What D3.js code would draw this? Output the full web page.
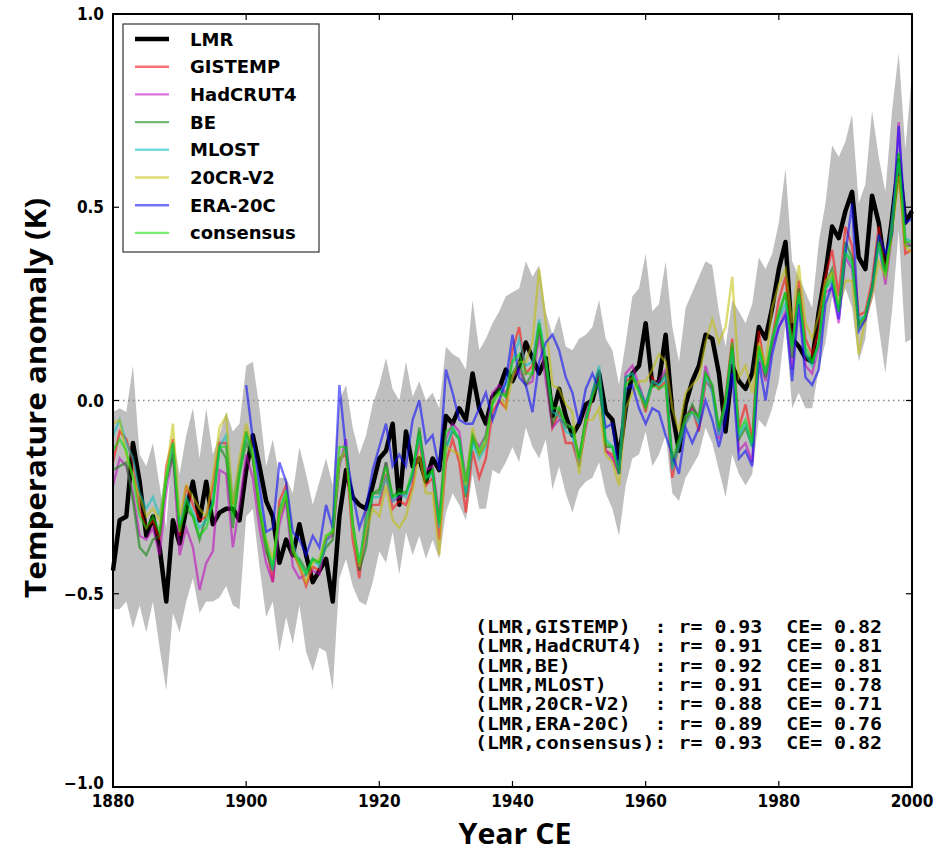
<!DOCTYPE html>
<html>
<head>
<meta charset="utf-8">
<script src="https://cdn.jsdelivr.net/npm/d3@7"></script>
<style>
body { margin: 0; background: #fff; }
</style>
</head>
<body>
<div id="chart"></div>
<script>
// anos 1880-2000
var years = d3.range(1880, 2001);

// LMR (reconstruccion)
var lmr = [-0.44,-0.31,-0.30,-0.11,-0.21,-0.35,-0.30,-0.38,-0.52,-0.31,
  -0.37,-0.28,-0.21,-0.31,-0.21,-0.32,-0.29,-0.28,-0.28,-0.31,
  -0.18,-0.09,-0.17,-0.26,-0.30,-0.42,-0.36,-0.40,-0.32,-0.40,
  -0.47,-0.44,-0.41,-0.52,-0.30,-0.18,-0.25,-0.27,-0.28,-0.22,
  -0.15,-0.13,-0.06,-0.27,-0.08,-0.17,-0.15,-0.21,-0.15,-0.18,
  -0.04,-0.06,-0.02,-0.05,0.07,-0.02,-0.06,0.01,0.03,0.08,
  0.05,0.09,0.15,0.11,0.07,0.11,-0.04,0.03,-0.04,-0.09,
  -0.06,-0.01,0.00,0.07,-0.03,-0.05,-0.15,-0.02,0.07,0.09,
  0.20,0.04,0.05,0.17,-0.03,-0.13,-0.01,0.05,0.09,0.17,
  0.16,0.07,-0.08,0.09,0.05,0.03,0.07,0.19,0.16,0.24,
  0.34,0.41,0.16,0.14,0.11,0.10,0.23,0.33,0.45,0.42,
  0.49,0.54,0.37,0.34,0.53,0.46,0.34,0.47,0.62,0.46,0.49];

// banda de incertidumbre
var lmr_hi = [-0.03,-0.02,-0.03,0.09,-0.14,-0.17,-0.11,-0.22,-0.33,-0.09,
  -0.19,-0.09,-0.02,-0.15,-0.02,-0.14,-0.09,-0.03,-0.08,-0.06,
  0.09,0.10,-0.02,-0.17,-0.10,-0.20,-0.20,-0.24,-0.12,-0.19,
  -0.27,-0.21,-0.15,-0.22,0.00,0.04,-0.07,-0.14,-0.09,-0.01,
  0.04,0.11,0.03,0.00,0.10,0.01,0.05,0.00,0.02,-0.02,
  0.14,0.12,0.11,0.08,0.26,0.13,0.16,0.20,0.23,0.27,
  0.28,0.29,0.36,0.32,0.35,0.23,0.17,0.22,0.14,0.13,
  0.16,0.17,0.19,0.26,0.16,0.13,0.04,0.15,0.27,0.29,
  0.38,0.23,0.25,0.36,0.19,0.10,0.24,0.28,0.32,0.36,
  0.35,0.23,0.14,0.26,0.23,0.20,0.25,0.37,0.34,0.38,
  0.46,0.60,0.36,0.32,0.28,0.24,0.41,0.51,0.66,0.63,
  0.67,0.74,0.51,0.56,0.75,0.63,0.54,0.75,0.90,0.65,0.85];

var lmr_lo = [-0.54,-0.54,-0.52,-0.59,-0.53,-0.60,-0.52,-0.64,-0.75,-0.55,
  -0.60,-0.52,-0.46,-0.55,-0.52,-0.52,-0.51,-0.48,-0.53,-0.54,
  -0.30,-0.28,-0.43,-0.56,-0.52,-0.65,-0.56,-0.63,-0.53,-0.65,
  -0.70,-0.64,-0.65,-0.75,-0.46,-0.41,-0.48,-0.52,-0.53,-0.47,
  -0.39,-0.42,-0.34,-0.45,-0.34,-0.40,-0.35,-0.41,-0.36,-0.41,
  -0.29,-0.24,-0.27,-0.31,-0.19,-0.28,-0.28,-0.18,-0.19,-0.16,
  -0.12,-0.16,-0.07,-0.12,-0.15,-0.10,-0.23,-0.17,-0.24,-0.29,
  -0.23,-0.21,-0.20,-0.16,-0.24,-0.28,-0.35,-0.22,-0.15,-0.14,
  -0.08,-0.17,-0.14,-0.09,-0.24,-0.26,-0.20,-0.17,-0.14,-0.07,
  -0.11,-0.18,-0.25,-0.14,-0.19,-0.22,-0.19,-0.05,-0.07,-0.02,
  0.05,0.20,-0.02,0.02,-0.02,-0.02,0.08,0.15,0.27,0.23,
  0.29,0.24,0.10,0.16,0.32,0.19,0.07,0.23,0.44,0.15,0.16];

// instrumentales y reanalisis
var gistemp = [-0.16,-0.08,-0.10,-0.16,-0.28,-0.33,-0.31,-0.36,-0.17,-0.10,
  -0.35,-0.22,-0.27,-0.31,-0.30,-0.22,-0.11,-0.11,-0.27,-0.17,
  -0.08,-0.15,-0.28,-0.37,-0.47,-0.26,-0.22,-0.39,-0.43,-0.48,
  -0.43,-0.44,-0.36,-0.34,-0.15,-0.14,-0.36,-0.46,-0.29,-0.27,
  -0.27,-0.19,-0.28,-0.26,-0.27,-0.22,-0.10,-0.22,-0.20,-0.36,
  -0.16,-0.10,-0.16,-0.29,-0.13,-0.20,-0.15,-0.03,0.00,-0.02,
  0.13,0.19,0.07,0.09,0.20,0.09,-0.07,-0.03,-0.11,-0.11,
  -0.17,-0.07,0.01,0.08,-0.13,-0.14,-0.19,0.05,0.06,0.03,
  -0.03,0.06,0.03,0.05,-0.20,-0.11,-0.06,-0.02,-0.08,0.05,
  0.03,-0.08,0.01,0.16,-0.07,-0.01,-0.10,0.18,0.07,0.16,
  0.26,0.32,0.14,0.31,0.16,0.12,0.18,0.32,0.39,0.27,
  0.45,0.40,0.22,0.23,0.31,0.45,0.33,0.46,0.61,0.38,0.39];

var hadcrut4 = [-0.22,-0.15,-0.17,-0.24,-0.35,-0.36,-0.33,-0.40,-0.24,-0.13,
  -0.40,-0.33,-0.38,-0.49,-0.42,-0.39,-0.18,-0.19,-0.38,-0.27,
  -0.14,-0.20,-0.33,-0.42,-0.47,-0.32,-0.26,-0.43,-0.46,-0.45,
  -0.44,-0.45,-0.36,-0.35,-0.17,-0.10,-0.32,-0.44,-0.35,-0.24,
  -0.23,-0.16,-0.26,-0.25,-0.24,-0.20,-0.08,-0.18,-0.17,-0.30,
  -0.10,-0.06,-0.08,-0.21,-0.09,-0.12,-0.09,0.02,0.04,0.02,
  0.06,0.08,0.04,0.05,0.17,0.05,-0.07,-0.05,-0.06,-0.07,
  -0.16,-0.04,0.02,0.07,-0.13,-0.15,-0.19,0.07,0.09,0.04,
  -0.01,0.04,0.05,0.08,-0.16,-0.11,-0.04,-0.02,-0.04,0.09,
  0.03,-0.10,-0.01,0.13,-0.13,-0.11,-0.16,0.11,0.05,0.14,
  0.19,0.23,0.08,0.27,0.09,0.07,0.14,0.28,0.29,0.20,
  0.37,0.34,0.19,0.21,0.27,0.41,0.30,0.43,0.72,0.41,0.40];

var be = [-0.18,-0.17,-0.16,-0.26,-0.38,-0.40,-0.36,-0.35,-0.21,-0.14,
  -0.33,-0.28,-0.30,-0.36,-0.30,-0.27,-0.12,-0.15,-0.33,-0.19,
  -0.11,-0.15,-0.29,-0.39,-0.44,-0.30,-0.25,-0.40,-0.41,-0.44,
  -0.41,-0.42,-0.38,-0.36,-0.16,-0.12,-0.32,-0.44,-0.38,-0.24,
  -0.24,-0.16,-0.25,-0.23,-0.24,-0.19,-0.07,-0.21,-0.18,-0.32,
  -0.12,-0.08,-0.10,-0.25,-0.10,-0.14,-0.11,0.00,0.03,0.01,
  0.07,0.10,0.04,0.07,0.19,0.08,-0.06,-0.02,-0.07,-0.07,
  -0.15,-0.05,0.02,0.08,-0.12,-0.12,-0.18,0.06,0.07,0.03,
  -0.01,0.05,0.04,0.07,-0.17,-0.11,-0.05,-0.01,-0.05,0.07,
  0.04,-0.08,0.00,0.14,-0.10,-0.07,-0.12,0.14,0.06,0.15,
  0.22,0.28,0.11,0.29,0.12,0.10,0.15,0.30,0.34,0.23,
  0.41,0.37,0.20,0.22,0.29,0.43,0.32,0.44,0.64,0.40,0.40];

var mlost = [-0.09,-0.05,-0.11,-0.15,-0.24,-0.28,-0.25,-0.30,-0.19,-0.11,
  -0.32,-0.25,-0.29,-0.33,-0.31,-0.26,-0.12,-0.09,-0.26,-0.17,
  -0.09,-0.14,-0.26,-0.36,-0.44,-0.29,-0.23,-0.37,-0.42,-0.45,
  -0.41,-0.43,-0.37,-0.33,-0.16,-0.12,-0.33,-0.42,-0.30,-0.25,
  -0.25,-0.20,-0.26,-0.24,-0.25,-0.19,-0.09,-0.20,-0.19,-0.33,
  -0.13,-0.07,-0.10,-0.24,-0.11,-0.15,-0.12,0.00,0.02,0.04,
  0.10,0.16,0.09,0.10,0.21,0.10,-0.03,-0.04,-0.08,-0.09,
  -0.17,-0.06,0.02,0.09,-0.10,-0.12,-0.18,0.06,0.07,0.03,
  -0.01,0.05,0.04,0.06,-0.18,-0.12,-0.06,-0.03,-0.06,0.06,
  0.02,-0.09,-0.01,0.13,-0.09,-0.06,-0.12,0.13,0.07,0.16,
  0.21,0.25,0.14,0.27,0.12,0.09,0.15,0.29,0.31,0.24,
  0.39,0.35,0.21,0.22,0.29,0.40,0.32,0.47,0.62,0.42,0.41];

var cr20 = [-0.06,-0.05,-0.14,-0.20,-0.25,-0.30,-0.28,-0.31,-0.19,-0.06,
  -0.30,-0.22,-0.25,-0.28,-0.30,-0.20,-0.07,-0.04,-0.27,-0.15,
  -0.06,-0.13,-0.28,-0.36,-0.41,-0.30,-0.24,-0.38,-0.43,-0.47,
  -0.42,-0.41,-0.35,-0.34,-0.16,-0.12,-0.33,-0.43,-0.34,-0.28,
  -0.30,-0.22,-0.31,-0.33,-0.30,-0.23,-0.14,-0.24,-0.24,-0.40,
  -0.12,-0.13,-0.14,-0.22,-0.07,-0.14,-0.11,0.00,0.02,-0.02,
  0.06,0.10,0.10,0.15,0.34,0.20,0.04,0.03,-0.01,-0.03,
  -0.19,-0.05,-0.05,-0.02,-0.14,-0.16,-0.22,-0.02,0.02,0.05,
  0.05,0.08,0.12,0.10,-0.02,-0.08,0.02,0.04,0.06,0.15,
  0.21,0.15,0.19,0.32,0.06,0.09,0.02,0.15,0.09,0.24,
  0.30,0.34,0.20,0.35,0.20,0.16,0.22,0.31,0.33,0.25,
  0.31,0.31,0.12,0.21,0.27,0.36,0.32,0.43,0.58,0.40,0.38];

// ERA-20C empieza en 1900
var era20c = [null,null,null,null,null,null,null,null,null,null,
  null,null,null,null,null,null,null,null,null,null,
  0.04,-0.10,-0.22,-0.34,-0.33,-0.16,-0.21,-0.34,-0.36,-0.40,
  -0.35,-0.38,-0.27,-0.33,0.04,-0.13,-0.24,-0.33,-0.28,-0.18,
  -0.12,-0.06,-0.17,-0.14,-0.17,-0.05,0.00,-0.11,-0.09,-0.18,
  0.08,0.02,-0.05,-0.06,-0.06,-0.02,0.02,-0.05,0.00,0.05,
  0.17,0.06,0.04,-0.03,0.10,0.15,0.17,0.13,0.06,0.02,
  -0.06,0.03,0.07,0.03,-0.07,-0.06,-0.19,0.03,0.04,-0.02,
  -0.06,-0.02,-0.03,-0.09,-0.14,-0.19,-0.07,-0.11,-0.07,0.00,
  -0.05,-0.12,-0.05,0.07,-0.15,-0.13,-0.17,0.10,0.00,0.12,
  0.19,0.22,0.05,0.25,0.06,0.04,0.08,0.25,0.30,0.21,
  0.38,0.51,0.18,0.21,0.29,0.43,0.38,0.43,0.71,0.46,0.47];

var consensus = [-0.13,-0.10,-0.13,-0.20,-0.30,-0.33,-0.30,-0.34,-0.20,-0.11,
  -0.34,-0.26,-0.30,-0.35,-0.33,-0.27,-0.12,-0.12,-0.30,-0.19,
  -0.08,-0.14,-0.28,-0.37,-0.43,-0.28,-0.24,-0.39,-0.42,-0.45,
  -0.41,-0.42,-0.35,-0.34,-0.12,-0.12,-0.32,-0.42,-0.32,-0.24,
  -0.23,-0.17,-0.25,-0.24,-0.24,-0.18,-0.08,-0.20,-0.18,-0.32,
  -0.08,-0.07,-0.10,-0.21,-0.09,-0.13,-0.09,-0.01,0.02,0.01,
  0.10,0.12,0.07,0.07,0.20,0.11,-0.02,-0.02,-0.06,-0.07,
  -0.15,-0.05,0.01,0.05,-0.11,-0.12,-0.19,0.04,0.06,0.02,
  -0.02,0.04,0.03,0.04,-0.15,-0.10,-0.04,-0.03,-0.04,0.07,
  0.04,-0.07,0.00,0.15,-0.08,-0.05,-0.11,0.14,0.07,0.16,
  0.23,0.28,0.14,0.28,0.14,0.10,0.15,0.29,0.32,0.23,
  0.38,0.36,0.19,0.22,0.29,0.41,0.33,0.44,0.64,0.41,0.41];

var series_names = ["GISTEMP", "HadCRUT4", "BE", "MLOST", "20CR-V2", "ERA-20C", "consensus"];
var series_vals = [gistemp, hadcrut4, be, mlost, cr20, era20c, consensus];
var series_cols = ["#ff0000", "#bf00bf", "#007f00", "#00bfbf", "#bfbf00", "#0000ff", "#00e000"];

var stats_names = ["(LMR,GISTEMP)  ", "(LMR,HadCRUT4) ", "(LMR,BE)       ", "(LMR,MLOST)    ",
  "(LMR,20CR-V2)  ", "(LMR,ERA-20C)  ", "(LMR,consensus)"];
var stats_r = ["0.93", "0.91", "0.92", "0.91", "0.88", "0.89", "0.93"];
var stats_ce = ["0.82", "0.81", "0.81", "0.78", "0.71", "0.76", "0.82"];

var x_ticks = [1880, 1900, 1920, 1940, 1960, 1980, 2000];
var y_ticks = [-1.0, -0.5, 0.0, 0.5, 1.0];

// tamano (ojo: "top" es de window, no usar)
var svg_w = 937, svg_h = 853;
var p_left = 113, p_right = 912, p_top = 14, p_bottom = 787;

var svg = d3.select("#chart").append("svg")
  .attr("width", svg_w)
  .attr("height", svg_h)
  .style("font-family", "'DejaVu Sans', sans-serif");

var x = d3.scaleLinear().domain([1880, 2000]).range([p_left, p_right]);
var y = d3.scaleLinear().domain([-1, 1]).range([p_bottom, p_top]);

// banda gris
var band = d3.area()
  .x(function(d, i) { return x(years[i]); })
  .y0(function(d, i) { return y(lmr_lo[i]); })
  .y1(function(d, i) { return y(lmr_hi[i]); });

svg.append("path")
  .datum(lmr)
  .attr("d", band)
  .attr("fill", "#bfbfbf");

// linea de cero
svg.append("line")
  .attr("x1", p_left).attr("x2", p_right)
  .attr("y1", y(0)).attr("y2", y(0))
  .attr("stroke", "#888")
  .attr("stroke-width", 1.5)
  .attr("stroke-dasharray", "1.5,3.5");

var line = d3.line()
  .defined(function(d) { return d != null; })
  .x(function(d, i) { return x(years[i]); })
  .y(function(d) { return y(d); });

// LMR primero, las otras encima con transparencia
svg.append("path")
  .datum(lmr)
  .attr("d", line)
  .attr("fill", "none")
  .attr("stroke", "#000")
  .attr("stroke-width", 4.5)
  .attr("stroke-linejoin", "round");

for (var q = 0; q < series_vals.length; q++) {
  svg.append("path")
    .datum(series_vals[q])
    .attr("d", line)
    .attr("fill", "none")
    .attr("stroke", series_cols[q])
    .attr("stroke-opacity", 0.55)
    .attr("stroke-width", 2.4);
}

// marco
svg.append("rect")
  .attr("x", p_left).attr("y", p_top)
  .attr("width", p_right - p_left).attr("height", p_bottom - p_top)
  .attr("fill", "none")
  .attr("stroke", "#000")
  .attr("stroke-width", 2);

// ticks hacia adentro
var tick_len = 6;
x_ticks.forEach(function(t) {
  svg.append("line").attr("x1", x(t)).attr("x2", x(t))
    .attr("y1", p_bottom).attr("y2", p_bottom - tick_len).attr("stroke", "#000").attr("stroke-width", 1.2);
  svg.append("line").attr("x1", x(t)).attr("x2", x(t))
    .attr("y1", p_top).attr("y2", p_top + tick_len).attr("stroke", "#000").attr("stroke-width", 1.2);
  svg.append("text")
    .attr("x", x(t)).attr("y", 807)
    .attr("text-anchor", "middle")
    .style("font-family", "'DejaVu Sans Condensed', 'DejaVu Sans', sans-serif")
    .style("font-weight", "bold")
    .style("font-size", "17px")
    .text(t);
});

y_ticks.forEach(function(t) {
  svg.append("line").attr("x1", p_left).attr("x2", p_left + tick_len)
    .attr("y1", y(t)).attr("y2", y(t)).attr("stroke", "#000").attr("stroke-width", 1.2);
  svg.append("line").attr("x1", p_right).attr("x2", p_right - tick_len)
    .attr("y1", y(t)).attr("y2", y(t)).attr("stroke", "#000").attr("stroke-width", 1.2);
  svg.append("text")
    .attr("x", p_left - 9).attr("y", y(t) + (t == -1 ? 2 : 6))
    .attr("text-anchor", "end")
    .style("font-family", "'DejaVu Sans Condensed', 'DejaVu Sans', sans-serif")
    .style("font-weight", "bold")
    .style("font-size", "17px")
    .text(d3.format(".1f")(t).replace("-", "\u2212"));
});

// titulos de ejes
svg.append("text")
  .attr("x", 515).attr("y", 844)
  .attr("text-anchor", "middle")
  .style("font-family", "'Open Sans', sans-serif")
  .style("font-weight", "bold")
  .style("font-size", "28px")
  .attr("textLength", 113)
  .attr("lengthAdjust", "spacingAndGlyphs")
  .text("Year CE");

svg.append("text")
  .attr("transform", "translate(46,398) rotate(-90)")
  .attr("text-anchor", "middle")
  .style("font-family", "'Open Sans', sans-serif")
  .style("font-weight", "bold")
  .style("font-size", "29px")
  .attr("textLength", 400)
  .attr("lengthAdjust", "spacingAndGlyphs")
  .text("Temperature anomaly (K)");

// leyenda
var legend = svg.append("g");
legend.append("rect")
  .attr("x", 123).attr("y", 24)
  .attr("width", 196).attr("height", 228)
  .attr("fill", "#fff")
  .attr("stroke", "#333")
  .attr("stroke-width", 1.2);

var leg_names = ["LMR"].concat(series_names);
var leg_cols = ["#000"].concat(series_cols);
leg_names.forEach(function(n, i) {
  var cy = 39 + i * 27.7;
  legend.append("line")
    .attr("x1", 135).attr("x2", 169)
    .attr("y1", cy).attr("y2", cy)
    .attr("stroke", leg_cols[i])
    .attr("stroke-opacity", i == 0 ? 1 : 0.55)
    .attr("stroke-width", i == 0 ? 4.5 : 2.4);
  legend.append("text")
    .attr("x", 190).attr("y", cy + 6.5)
    .style("font-weight", "bold")
    .style("font-size", "18px")
    .text(n);
});

// estadisticas
stats_names.forEach(function(n, i) {
  svg.append("text")
    .attr("x", 475).attr("y", 633 + i * 19.3)
    .attr("textLength", 407)
    .attr("lengthAdjust", "spacingAndGlyphs")
    .style("font-family", "'DejaVu Sans Mono', monospace")
    .style("font-weight", "bold")
    .style("font-size", "18px")
    .style("white-space", "pre")
    .text(n + ": r= " + stats_r[i] + "  CE= " + stats_ce[i]);
});
</script>
</body>
</html>
